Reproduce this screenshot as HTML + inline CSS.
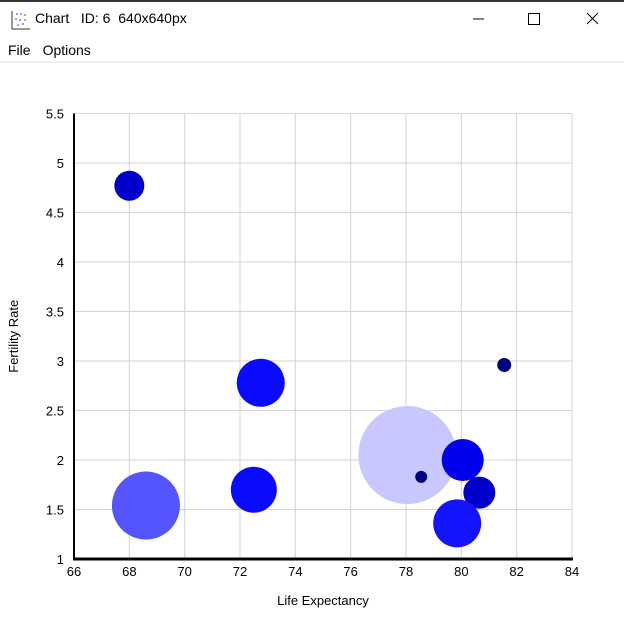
<!DOCTYPE html>
<html><head><meta charset="utf-8"><style>
body{margin:0;width:624px;height:632px;overflow:hidden;background:#fff;font-family:"Segoe UI","Liberation Sans",sans-serif;position:relative}
#top{position:absolute;left:0;top:0;width:624px;height:2px;background:#2b3a2b}
#title{position:absolute;left:35px;top:10px;font-size:14px;color:#000}
#menu{position:absolute;left:8px;top:42px;font-size:14px;color:#000}
#menu span{margin-right:12px}
#sep{position:absolute;left:0;top:61px;width:624px;height:2px;background:#f0f0f0}
svg{position:absolute;left:0;top:0}
</style></head><body>
<div id="top"></div>
<svg width="624" height="632">
<g fill="#8080e0"><rect x="12" y="11" width="18" height="18" fill="none" stroke="#999" stroke-width="0"/><line x1="12" y1="11" x2="12" y2="29" stroke="#333"/><line x1="12" y1="29" x2="30" y2="29" stroke="#333"/><circle cx="17" cy="14" r="1"/><circle cx="21" cy="14" r="1"/><circle cx="25" cy="15" r="1"/><circle cx="16" cy="19" r="1"/><circle cx="20" cy="20" r="1"/><circle cx="25" cy="20" r="1"/><circle cx="18" cy="25" r="1"/><circle cx="23" cy="24" r="1"/></g>
<line x1="473" y1="19" x2="484" y2="19" stroke="#000"/>
<rect x="528.5" y="13.5" width="11" height="11" fill="none" stroke="#000"/>
<g stroke="#000"><line x1="587" y1="13" x2="598" y2="24"/><line x1="598" y1="13" x2="587" y2="24"/></g>
</svg>
<div id="title">Chart&nbsp;&nbsp; ID: 6&nbsp; 640x640px</div>
<div id="menu"><span>File</span><span>Options</span></div>
<div id="sep"></div>
<svg id="chart" width="624" height="632" font-family="Segoe UI, Liberation Sans, sans-serif" font-size="13"></svg>
<script>
const lifeExp=[68.0,72.75,68.6,72.5,78.05,78.55,81.55,80.05,80.65,79.85];
const fertility=[4.77,2.78,1.54,1.70,2.05,1.83,2.96,2.00,1.67,1.36];
const radii=[15,24,34,23,49,6,7,21,16,24];
const colors=["#0000cc","#0a0aff","#5555ff","#0a0aff","#c8c8ff","#000080","#000080","#0000ee","#0000cc","#1414ff"];
const xTicks=[66,68,70,72,74,76,78,80,82,84];
const yTicks=[1,1.5,2,2.5,3,3.5,4,4.5,5,5.5];
const L=74,R=572,T=113.5,B=559;
const sx=v=>L+(v-66)/18*(R-L);
const sy=v=>B-(v-1)/4.5*(B-T);
const svg=document.getElementById('chart');
const NS='http://www.w3.org/2000/svg';
function mk(t,a){const e=document.createElementNS(NS,t);for(const k in a)e.setAttribute(k,a[k]);svg.appendChild(e);return e;}
xTicks.forEach(v=>{const l=mk('line',{x1:sx(v),x2:sx(v),y1:T,y2:B,stroke:'#d3d3d3'});


const t=mk('text',{x:sx(v),y:B+17,'text-anchor':'middle',fill:'#000'});t.textContent=v;

});
yTicks.forEach(v=>{const l=mk('line',{x1:L,x2:R,y1:sy(v),y2:sy(v),stroke:'#d3d3d3'});


const t=mk('text',{x:L-10,y:sy(v)+5,'text-anchor':'end',fill:'#000'});t.textContent=v;

});
const ax=mk('line',{x1:L-1,x2:R+1,y1:B,y2:B,stroke:'#000','stroke-width':3});


const ay=mk('line',{x1:L,x2:L,y1:T,y2:B,stroke:'#000','stroke-width':2});


lifeExp.forEach((v,i)=>{const c=mk('circle',{cx:sx(v),cy:sy(fertility[i]),r:radii[i],fill:colors[i]});

});
const xt=mk('text',{x:(L+R)/2,y:605,'text-anchor':'middle',fill:'#000'});xt.textContent='Life Expectancy';


const yt=mk('text',{x:18,y:(T+B)/2,'text-anchor':'middle',fill:'#000',transform:'rotate(-90 18 '+((T+B)/2)+')'});yt.textContent='Fertility Rate';


</script>
</body></html>
